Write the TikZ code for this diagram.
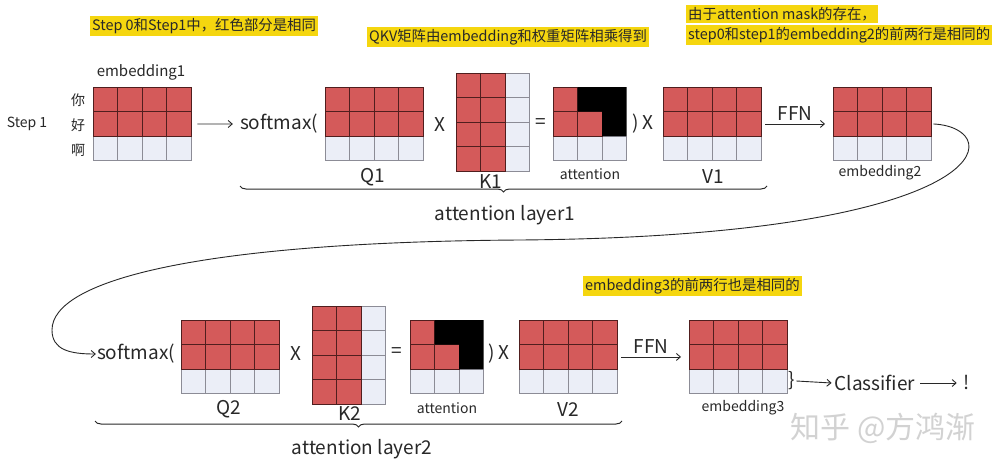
\documentclass[tikz,border=0pt]{standalone}
\usepackage{fontspec}
\setmainfont{Noto Sans CJK SC}
\usetikzlibrary{decorations.pathreplacing,arrows.meta}
\definecolor{cred}{RGB}{212,90,90}
\definecolor{clight}{RGB}{235,238,247}
\definecolor{cline}{RGB}{80,30,30}
\definecolor{cgrey}{RGB}{140,140,150}
\definecolor{cyel}{RGB}{245,214,15}
\definecolor{ctext}{RGB}{40,40,40}
\tikzset{
  redc/.style={fill=cred, draw=cline, line width=0.7pt},
  lightc/.style={fill=clight, draw=cgrey, line width=0.7pt},
  gridbox/.style={inner sep=0pt, anchor=north west},
  big/.style={inner sep=1pt, text=ctext, font=\fontsize{19}{22}\selectfont},
  small/.style={inner sep=1pt, text=ctext, font=\fontsize{14}{17}\selectfont},
  hl/.style={fill=cyel, inner xsep=2pt, inner ysep=2.5pt, anchor=west, text=ctext, font=\fontsize{14.4}{17}\selectfont},
  arr/.style={-{Straight Barb[length=4pt,width=7pt]}, line width=0.9pt, ctext},
  brc/.style={decorate, decoration={brace, mirror, amplitude=6pt}, line width=1pt, ctext},
}
\newcommand\embgrid[3]{%
  \foreach \c in {0,...,3}{
    \draw[lightc] ({#2+\c*24.5},{#3+49}) rectangle ++(24.5,24.5);
    \draw[redc] ({#2+\c*24.5},{#3}) rectangle ++(24.5,24.5);
    \draw[redc] ({#2+\c*24.5},{#3+24.5}) rectangle ++(24.5,24.5);
  }
  \node[gridbox, minimum width=98pt, minimum height=73.5pt] (#1) at (#2,#3) {};
}
\newcommand\kgrid[3]{%
  \foreach \r in {0,...,3}{
    \draw[lightc] ({#2+49},{#3+\r*24.5}) rectangle ++(24.5,24.5);
    \draw[redc] ({#2},{#3+\r*24.5}) rectangle ++(24.5,24.5);
    \draw[redc] ({#2+24.5},{#3+\r*24.5}) rectangle ++(24.5,24.5);
  }
  \node[gridbox, minimum width=73.5pt, minimum height=98pt] (#1) at (#2,#3) {};
}
\newcommand\attgrid[3]{%
  \foreach \c in {0,...,2}{
    \draw[lightc] ({#2+\c*24.5},{#3+49}) rectangle ++(24.5,24.5);
  }
  \draw[redc] ({#2},{#3}) rectangle ++(24.5,24.5);
  \draw[redc] ({#2},{#3+24.5}) rectangle ++(24.5,24.5);
  \draw[redc] ({#2+24.5},{#3+24.5}) rectangle ++(24.5,24.5);
  \fill[black] ({#2+24.5},{#3}) -- ({#2+73.5},{#3}) -- ({#2+73.5},{#3+49}) -- ({#2+49},{#3+49}) -- ({#2+49},{#3+24.5}) -- ({#2+24.5},{#3+24.5}) -- cycle;
  \node[gridbox, minimum width=73.5pt, minimum height=73.5pt] (#1) at (#2,#3) {};
}
\begin{document}
\begin{tikzpicture}[x=1pt, y=-1pt]
\fill[white] (0,0) rectangle (1001,466);
\useasboundingbox (0,0) rectangle (1001,466);

% highlights
\node[hl] (h1) at (90,26) {Step 0和Step1中，红色部分是相同};
\node[hl] (h2) at (367,37) {QKV矩阵由embedding和权重矩阵相乘得到};
\node[hl] (h3a) at (686,14) {由于attention mask的存在，};
\node[hl] (h3b) at (686,35) {step0和step1的embedding2的前两行是相同的};
\node[hl] (h4) at (583,286) {embedding3的前两行也是相同的};

% row 1
\embgrid{E1}{93}{87}
\embgrid{Q1}{325}{87}
\kgrid{K1}{456}{73}
\attgrid{A1}{553}{87}
\embgrid{V1}{663}{87}
\embgrid{E2}{833}{87}

\node[small] (st) at (27,124) {Step 1};
\node[small] (c1) at (78,100) {你};
\node[small] (c2) at (78,125) {好};
\node[small] (c3) at (78,150) {啊};
\node[small, font=\fontsize{15}{18}\selectfont] (le1) at (141,72) {embedding1};
\node[big] (SM1) at (279,124) {softmax(};
\node[big] (lq1) at (373,177) {Q1};
\node[big] (x1) at (440,125) {X};
\node[big] (lk1) at (491,182) {K1};
\node[big] (eq1) at (541,124) {=};
\node[small] (la1) at (590,174) {attention};
\node[big] (px1) at (643,124) {) X};
\node[big] (lv1) at (713,177) {V1};
\node[small] (le2) at (880,173) {embedding2};
\node[big] (ly1) at (505,215) {attention layer1};

\draw[arr] ([xshift=6pt]E1.east) -- ([xshift=-6pt]SM1.west);
\draw[arr] ([xshift=4pt]V1.east) -- node[big, above=2pt] (ffn1) {FFN} ([xshift=-8pt]E2.west);
\draw[brc] (240,186) -- (767,186);

% row 2
\embgrid{Q2}{181}{320}
\kgrid{K2}{312}{306}
\attgrid{A2}{410}{320}
\embgrid{V2}{519}{320}
\embgrid{E3}{689}{320}

\node[big] (SM2) at (136,354) {softmax(};
\node[big] (lq2) at (229,409) {Q2};
\node[big] (x2) at (296,354) {X};
\node[big] (lk2) at (350,414) {K2};
\node[big] (eq2) at (397,353) {=};
\node[small] (la2) at (447,408) {attention};
\node[big] (px2) at (499,354) {) X};
\node[big] (lv2) at (568,410) {V2};
\node[small] (le3) at (743,408) {embedding3};
\node[big] (rb) at (792,381) {\}};
\node[big] (cls) at (875,383) {Classifier};
\node[big] (ex) at (967,383) {!};
\node[big] (ly2) at (362,449) {attention layer2};
\node[text=gray!35, font=\fontsize{30}{34}\selectfont] (wm) at (883,428) {知乎 @方鸿渐};

\draw[arr] ([xshift=4pt]V2.east) -- node[big, above=2pt] (ffn2) {FFN} ([xshift=-8pt]E3.west);
\draw[arr] (rb.east) -- ([xshift=-2pt]cls.west);
\draw[arr] ([xshift=4pt]cls.east) -- ([xshift=-6pt]ex.west);
\draw[brc] (95,421) -- (622,421);

% long connector
\draw[arr] ([xshift=2pt]E2.east) .. controls (1010,128) and (1000,236) .. (520,240)
   .. controls (200,242) and (52,280) .. (52,330)
   .. controls (52,350) and (70,354) .. (SM2.west);
\end{tikzpicture}
\end{document}
